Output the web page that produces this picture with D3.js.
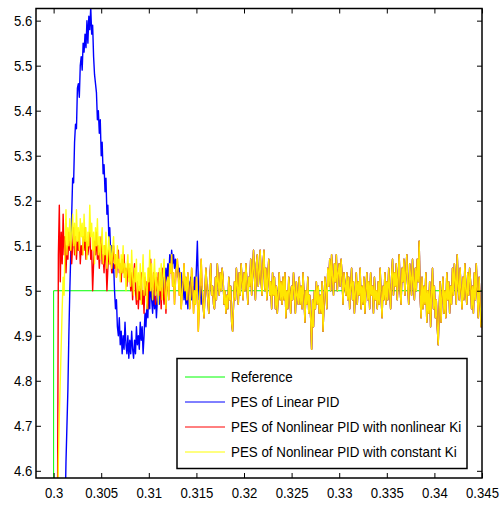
<!DOCTYPE html>
<html>
<head>
<meta charset="utf-8">
<script src="https://cdn.jsdelivr.net/npm/d3@7"></script>
<style>
body { margin: 0; background: #fff; }
svg text { font-family: Arial, "Liberation Sans", sans-serif; font-size: 14px; fill: #000; }
</style>
</head>
<body>
<svg id="chart"></svg>
<script>
// tick labels
const xTicks = [0.3, 0.305, 0.31, 0.315, 0.32, 0.325, 0.33, 0.335, 0.34, 0.345];
const yTicks = [4.6, 4.7, 4.8, 4.9, 5, 5.1, 5.2, 5.3, 5.4, 5.5, 5.6];

const legendLabels = [
  'Reference',
  'PES of Linear PID',
  'PES of Nonlinear PID with nonlinear Ki',
  'PES of Nonlinear PID with constant Ki'
];

// sampled at 0.0001 s
const sampleStep = 0.0001;

// reference step
const refTimes = [0.2980, 0.3, 0.3, 0.345];
const refValues = [4.0, 4.0, 5.0, 5.0];

// linear PID, starts 0.3012, runs to 0.3155
const linearStart = 0.3012;
const linearTransient = [
  4.50, 4.62, 4.70, 4.78, 4.90, 5.00, 5.08, 5.17,
  5.25, 5.24, 5.33, 5.37, 5.36, 5.45, 5.46, 5.43, 5.50, 5.52,
  5.49, 5.55, 5.53, 5.57, 5.54, 5.60, 5.55, 5.61, 5.58, 5.63,
  5.57, 5.59, 5.52, 5.48, 5.46, 5.44, 5.38, 5.40, 5.35, 5.38,
  5.30, 5.33, 5.26, 5.28, 5.22, 5.25, 5.17, 5.19, 5.12, 5.14,
  5.08, 5.10, 5.04, 5.06, 5.00, 4.96, 4.98, 4.92, 4.90, 4.94,
  4.88, 4.91, 4.86, 4.90, 4.87, 4.93, 4.88, 4.86, 4.90, 4.85,
  4.89, 4.86, 4.91, 4.87, 4.85, 4.89, 4.86, 4.92, 4.88, 4.90,
  4.87, 4.93, 4.89, 4.92, 4.86, 4.90, 4.95, 4.92, 4.97, 4.94,
  5.01, 4.96, 5.03, 4.98, 4.95, 5.00, 4.96, 4.99, 4.94, 4.98,
  5.02, 4.97, 5.00, 5.04, 4.99, 5.03, 4.98, 5.01, 5.05, 5.02,
  5.06, 5.03, 5.08, 5.05, 5.09, 5.06, 5.08, 5.05, 5.07, 5.04,
  5.06, 5.03, 5.05, 5.01, 5.04, 4.99, 5.02, 4.98, 5.01, 4.97,
  5.00, 4.96, 5.02, 4.99, 5.03, 4.98, 5.01, 4.97, 5.03, 5.00,
  5.05, 5.11, 5.02, 4.98, 5.01, 4.97
];

// nonlinear PIDs, start 0.3004, run to 0.3119
const nonlinearStart = 0.3004;
const nonlinearKiTransient = [
  4.45, 5.08, 5.19, 5.02, 5.13, 5.06,
  5.17, 5.08, 5.12, 5.04, 5.10, 5.07, 5.13, 5.09, 5.11, 5.06,
  5.10, 5.14, 5.08, 5.12, 5.07, 5.11, 5.09, 5.13, 5.06, 5.10,
  5.08, 5.12, 5.09, 5.14, 5.07, 5.11, 5.08, 5.10, 5.13, 5.07,
  5.09, 5.00, 5.06, 5.11, 5.08, 5.13, 5.07, 5.10, 5.05, 5.09,
  5.12, 5.06, 5.08, 5.04, 5.10, 5.07, 5.00, 5.05, 5.09, 5.06,
  5.08, 5.04, 5.07, 5.10, 5.05, 5.08, 5.03, 5.06, 5.09, 5.04,
  5.06, 5.02, 5.07, 5.04, 5.08, 5.03, 5.05, 5.01, 5.06, 5.03,
  5.05, 5.00, 5.04, 4.98, 5.03, 5.06, 5.00, 4.97, 5.02, 4.96,
  5.01, 4.98, 5.04, 4.97, 5.00, 4.95, 5.03, 4.99, 5.02, 4.96,
  5.05, 5.00, 5.07, 5.02, 4.98, 5.04, 5.01, 4.97, 5.03, 5.00,
  5.04, 4.99, 5.02, 4.96, 5.05, 5.00, 4.97, 5.03, 4.95, 5.01
];
const constantKiTransient = [
  4.45, 4.62, 4.72, 4.80, 4.88, 4.96,
  5.03, 4.99, 5.10, 5.18, 5.08, 5.14, 5.10, 5.16, 5.09, 5.13,
  5.17, 5.10, 5.15, 5.08, 5.18, 5.11, 5.14, 5.09, 5.16, 5.12,
  5.15, 5.08, 5.17, 5.11, 5.14, 5.07, 5.13, 5.10, 5.19, 5.12,
  5.15, 5.09, 5.13, 5.06, 5.14, 5.10, 5.16, 5.08, 5.12, 5.07,
  5.11, 5.14, 5.06, 5.10, 5.08, 5.13, 5.05, 5.09, 5.12, 5.06,
  5.10, 5.05, 5.09, 5.12, 5.06, 5.08, 5.03, 5.10, 5.05, 5.07,
  5.02, 5.08, 5.04, 5.10, 5.03, 5.06, 5.00, 5.05, 5.08, 5.02,
  5.06, 5.01, 5.09, 5.03, 4.99, 5.05, 5.02, 5.07, 4.98, 5.04,
  5.00, 5.06, 4.97, 5.03, 5.08, 4.99, 5.04, 5.01, 4.96, 5.05,
  5.02, 5.09, 5.00, 5.06, 4.98, 5.03, 5.07, 4.99, 5.04, 5.01,
  4.97, 5.05, 5.00, 5.06, 4.98, 5.03, 5.07, 5.00, 4.96, 5.02
];

// steady part where the three PES curves lie on top of each other, 0.3120 .. 0.3450
const steadyStart = 0.3120;
const steadyPES = [
  5.03, 4.98, 5.06, 5.04, 5.08, 5.01, 5.04, 4.97, 5.02, 5.05,
  5.07, 5.03, 4.99, 5.04, 4.96, 4.99, 5.02, 5.06, 5.00, 5.03,
  4.98, 5.04, 5.01, 4.96, 4.99, 5.05, 5.02, 4.95, 5.00, 4.97,
  5.03, 4.99, 4.91, 4.96, 5.02, 5.07, 5.01, 4.97, 4.94, 5.00,
  5.05, 5.01, 4.98, 4.95, 5.02, 5.06, 4.99, 5.01, 4.97, 4.96,
  5.03, 4.98, 5.06, 5.02, 4.99, 5.04, 5.00, 5.05, 5.03, 4.97,
  5.00, 4.95, 4.99, 4.96, 5.03, 4.98, 5.01, 4.93, 4.91, 4.97,
  5.02, 4.98, 5.05, 5.01, 4.97, 5.04, 4.99, 5.06, 5.02, 4.98,
  5.04, 5.00, 5.06, 5.02, 4.97, 5.03, 5.01, 5.07, 4.99, 5.04,
  5.09, 5.03, 4.98, 5.06, 5.08, 5.01, 5.04, 5.09, 5.02, 4.99,
  5.06, 5.09, 5.00, 5.05, 4.98, 5.03, 5.07, 4.99, 5.02, 4.96,
  5.04, 4.99, 5.03, 4.96, 5.01, 4.95, 4.99, 5.04, 4.98, 5.02,
  4.97, 5.03, 4.98, 5.04, 4.94, 5.00, 4.96, 5.03, 5.00, 4.95,
  5.01, 4.98, 5.04, 5.00, 4.95, 5.02, 4.99, 4.97, 5.03, 4.97,
  5.01, 4.96, 5.04, 4.99, 4.93, 5.00, 4.97, 5.03, 4.95, 4.99,
  4.94, 4.87, 4.98, 4.92, 5.00, 4.96, 5.02, 4.97, 5.01, 4.95,
  4.99, 4.95, 5.02, 4.91, 4.97, 5.03, 5.00, 4.96, 5.05, 5.01,
  5.07, 5.00, 5.08, 5.03, 4.99, 5.06, 5.02, 5.08, 5.00, 5.04,
  5.06, 5.01, 5.07, 5.03, 4.97, 5.04, 5.01, 4.99, 5.04, 4.98,
  5.03, 4.96, 5.01, 5.05, 4.98, 5.02, 4.95, 5.00, 5.04, 4.97,
  5.02, 4.99, 5.05, 4.96, 5.01, 4.97, 5.03, 4.95, 5.00, 5.04,
  4.98, 5.02, 4.96, 5.04, 4.99, 5.01, 4.95, 5.03, 4.98, 5.00,
  4.96, 5.02, 4.97, 5.05, 4.99, 4.94, 5.01, 4.98, 5.04, 4.97,
  5.02, 4.98, 5.05, 5.00, 4.96, 5.03, 5.07, 4.99, 5.04, 5.01,
  5.06, 4.98, 5.03, 5.08, 5.00, 4.97, 5.05, 5.02, 5.07, 4.99,
  5.04, 5.08, 5.01, 4.97, 5.06, 5.03, 4.99, 5.07, 5.02, 4.98,
  5.05, 5.00, 5.07, 5.02, 5.11, 4.99, 4.94, 5.03, 4.96, 5.01,
  4.97, 5.04, 4.93, 5.00, 4.95, 5.02, 4.92, 4.99, 5.05, 4.96,
  5.01, 4.94, 4.98, 4.92, 4.88, 4.96, 5.02, 4.93, 4.99, 5.03,
  4.95, 5.00, 4.94, 5.04, 4.98, 5.02, 4.95, 5.01, 4.97, 5.05,
  4.99, 5.06, 5.02, 4.97, 5.08, 5.01, 4.98, 5.05, 5.00, 4.96,
  5.03, 4.98, 5.06, 5.00, 4.97, 5.04, 4.99, 5.05, 5.02, 4.96,
  5.01, 4.95, 5.04, 4.98, 5.06, 5.00, 4.94, 5.03, 4.97, 4.92,
  4.93
];

const width = 501, height = 508;
const plotLeft = 36, plotRight = 482, plotTop = 8.5, plotBottom = 478;

const svg = d3.select('#chart').attr('width', width).attr('height', height);

const x = d3.scaleLinear().domain([0.29815, 0.345]).range([plotLeft, plotRight]);
const y = d3.scaleLinear().domain([4.584, 5.627]).range([plotBottom, plotTop]);

function sampled(start, values) {
  return values.map((v, i) => ({ t: +(start + i * sampleStep).toFixed(4), v: v }));
}

const steady = sampled(steadyStart, steadyPES);
const refPts = refTimes.map((t, i) => ({ t: t, v: refValues[i] }));
const linearPts = sampled(linearStart, linearTransient).concat(steady.filter(p => p.t > 0.3155));
const nonlinKiPts = sampled(nonlinearStart, nonlinearKiTransient).concat(steady);
const constKiPts = sampled(nonlinearStart, constantKiTransient).concat(steady);

svg.append('defs').append('clipPath').attr('id', 'plot-clip')
  .append('rect')
  .attr('x', plotLeft).attr('y', plotTop)
  .attr('width', plotRight - plotLeft).attr('height', plotBottom - plotTop);

const line = d3.line().x(d => x(d.t)).y(d => y(d.v));

const series = [
  { pts: refPts, color: '#00ff00', w: 1, op: 1 },
  { pts: linearPts, color: '#0000ff', w: 1.4, op: 1 },
  { pts: nonlinKiPts, color: '#ff0000', w: 1.4, op: 1 },
  { pts: constKiPts, color: '#ffff00', w: 1.4, op: 0.9 }
];

const linesG = svg.append('g').attr('clip-path', 'url(#plot-clip)');
linesG.selectAll('path').data(series).enter().append('path')
  .attr('d', d => line(d.pts))
  .attr('fill', 'none')
  .attr('stroke', d => d.color)
  .attr('stroke-width', d => d.w)
  .attr('stroke-opacity', d => d.op)
  .attr('stroke-linejoin', 'round');

// axes, MATLAB style: inward ticks on all four sides
const fmt = d => String(+d.toFixed(3));

svg.append('g').attr('transform', `translate(0,${plotBottom})`)
  .call(d3.axisBottom(x).tickValues(xTicks).tickSizeInner(-5).tickSizeOuter(0).tickPadding(10).tickFormat(fmt));
svg.append('g').attr('transform', `translate(0,${plotTop})`)
  .call(d3.axisTop(x).tickValues(xTicks).tickSizeInner(-5).tickSizeOuter(0).tickFormat(''));
svg.append('g').attr('transform', `translate(${plotLeft},0)`)
  .call(d3.axisLeft(y).tickValues(yTicks).tickSizeInner(-5).tickSizeOuter(0).tickPadding(4).tickFormat(fmt));
svg.append('g').attr('transform', `translate(${plotRight},0)`)
  .call(d3.axisRight(y).tickValues(yTicks).tickSizeInner(-5).tickSizeOuter(0).tickFormat(''));

svg.selectAll('.tick text')
  .attr('font-family', null).attr('font-size', null)
  .attr('transform', 'scale(0.94,1)');
svg.selectAll('.domain').remove();
svg.selectAll('.tick line').attr('stroke', '#000');

svg.append('rect')
  .attr('x', plotLeft).attr('y', plotTop)
  .attr('width', plotRight - plotLeft).attr('height', plotBottom - plotTop)
  .attr('fill', 'none').attr('stroke', '#000').attr('stroke-width', 1.5);

// legend
const legend = svg.append('g').attr('transform', 'translate(177,358.5)');
legend.append('rect')
  .attr('width', 290).attr('height', 110)
  .attr('fill', '#fff').attr('stroke', '#000').attr('stroke-width', 1.5);
const item = legend.selectAll('g.item').data(legendLabels).enter().append('g')
  .attr('class', 'item')
  .attr('transform', (d, i) => `translate(0,${18.5 + i * 25})`);
item.append('line')
  .attr('x1', 8).attr('x2', 48)
  .attr('stroke', (d, i) => series[i].color)
  .attr('stroke-width', 1);
item.append('text')
  .attr('transform', 'translate(54,0) scale(0.955,1)')
  .attr('dy', '0.35em')
  .text(d => d);
</script>
</body>
</html>
